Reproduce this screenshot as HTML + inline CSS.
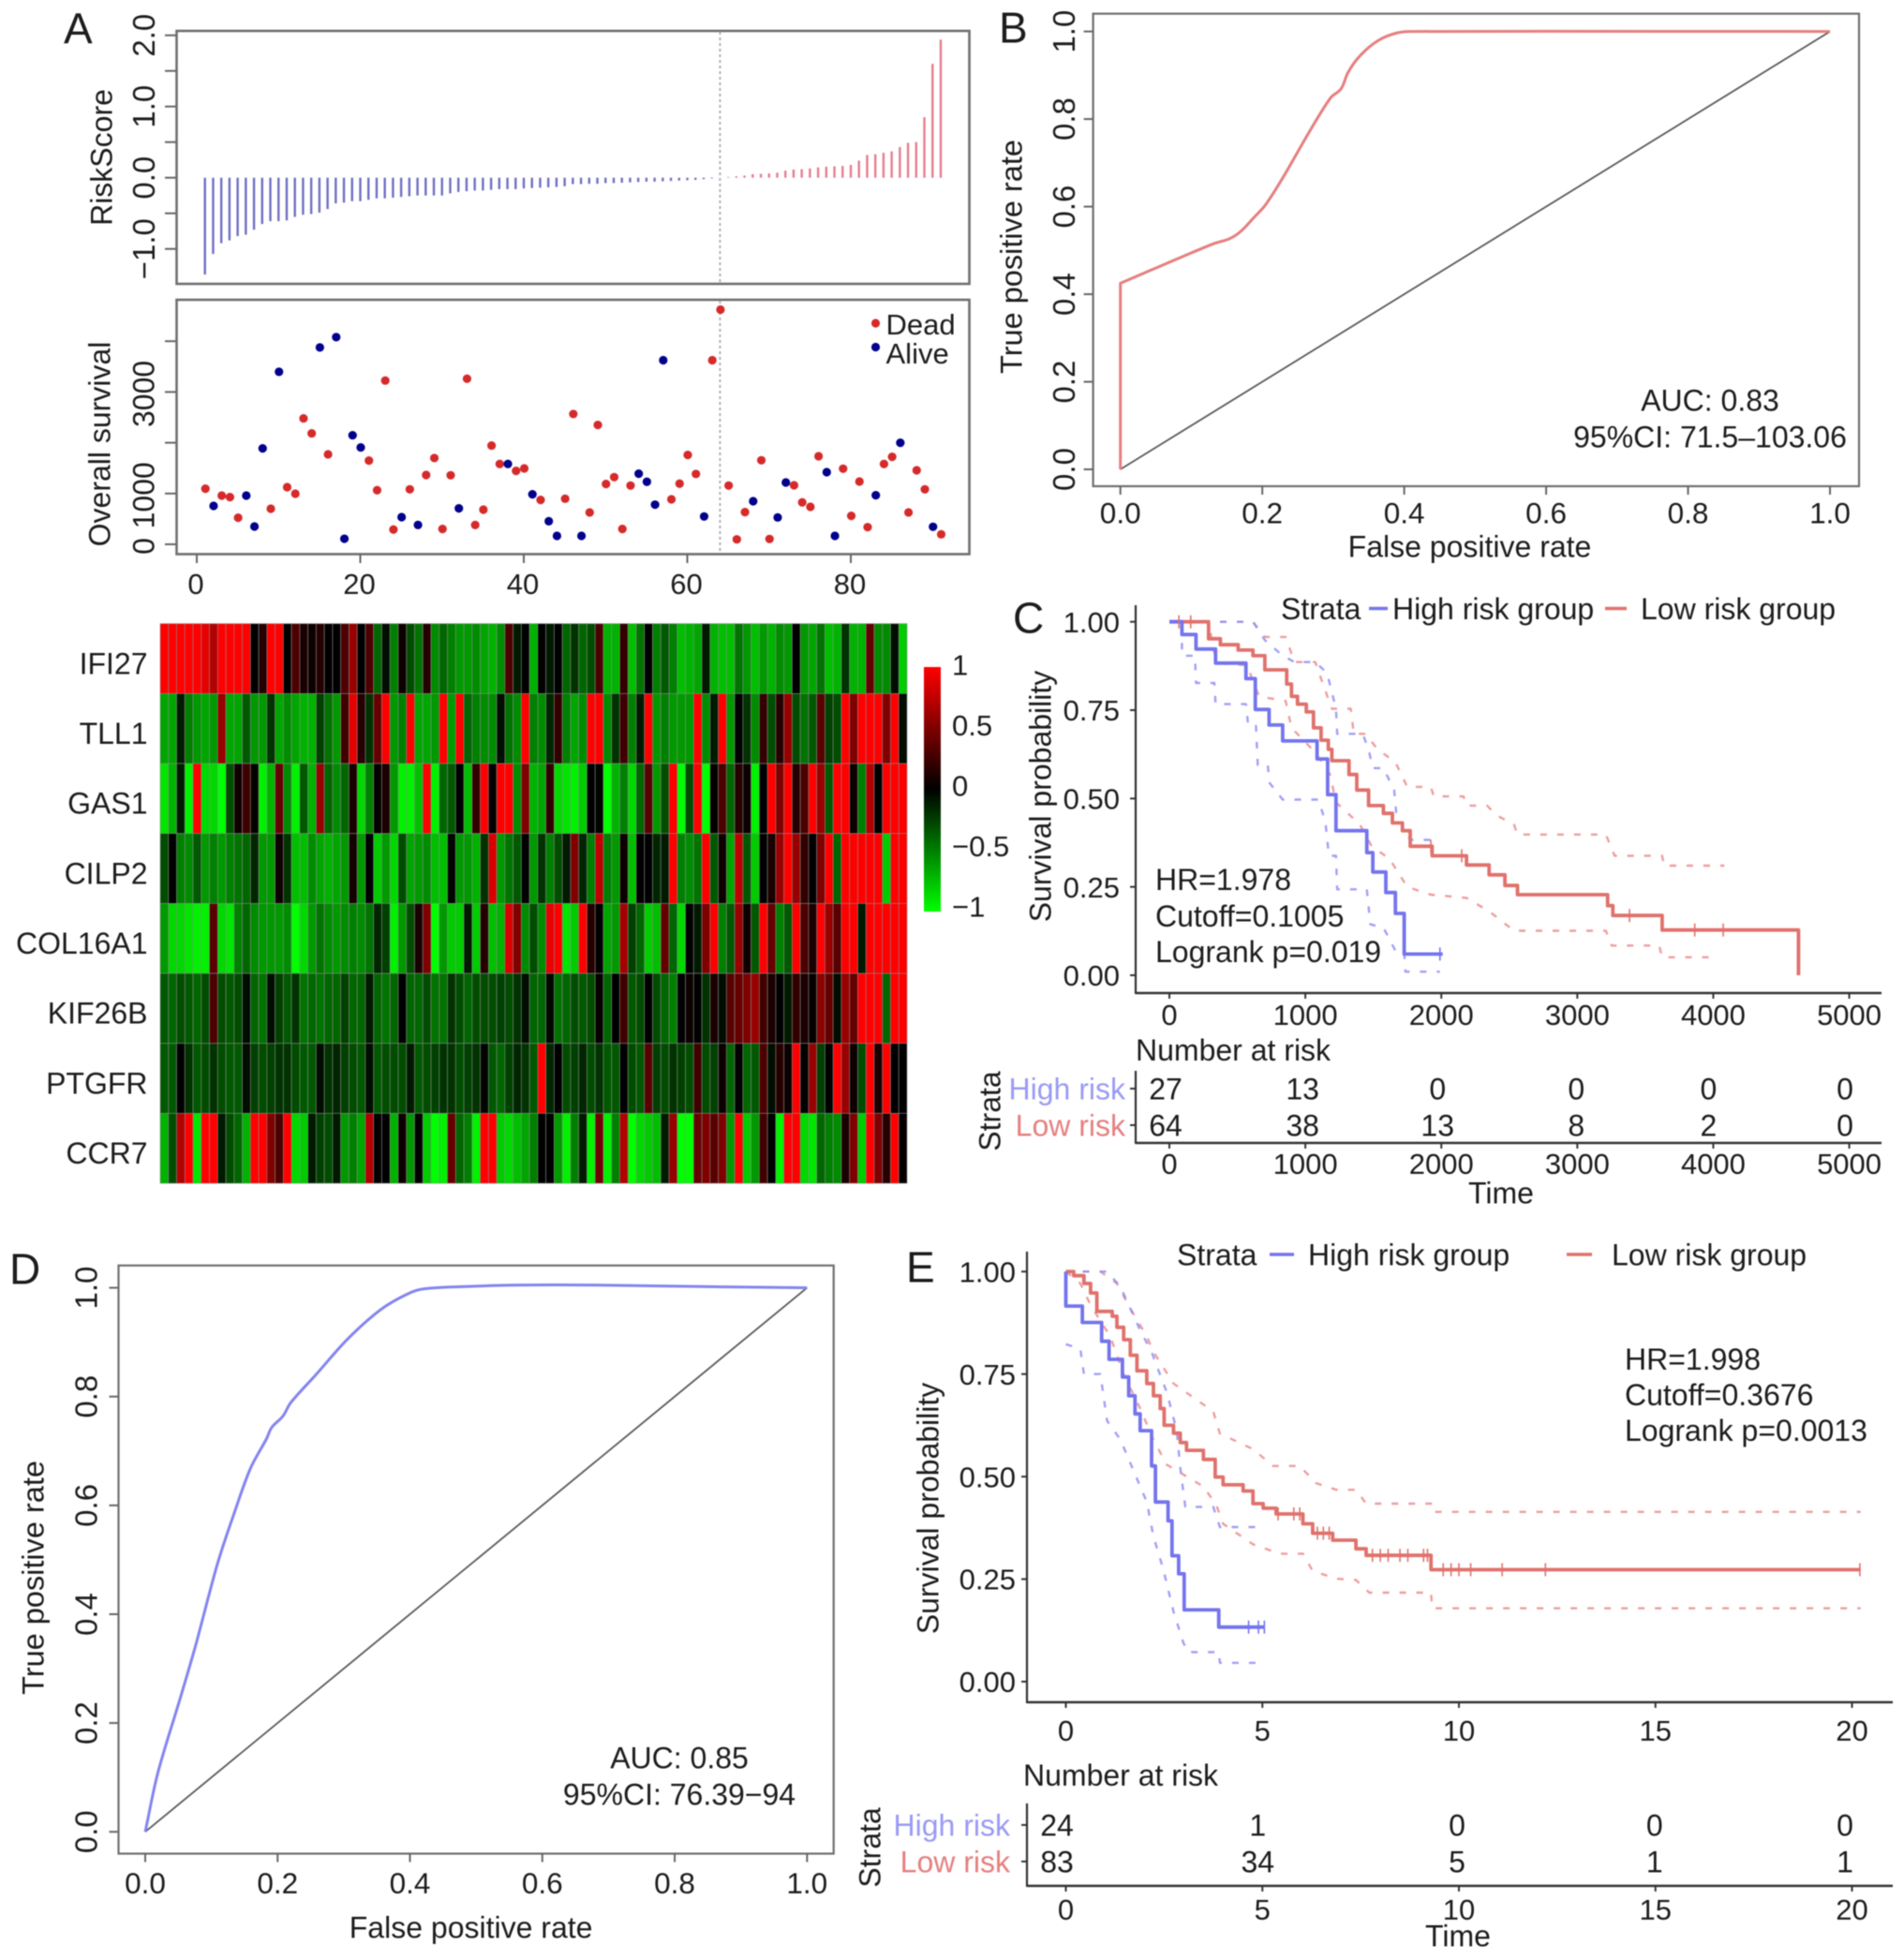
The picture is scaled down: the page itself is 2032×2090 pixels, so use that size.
<!DOCTYPE html>
<html lang="en">
<head>
<meta charset="utf-8">
<title>Risk score, ROC and survival panels</title>
<style>
html,body{margin:0;padding:0;background:#fff;}
#figure{display:block;width:2032px;height:2090px;filter:blur(0.5px);}
text{font-family:"Liberation Sans",Arial,sans-serif;fill:#1c1c1c;}
</style>
</head>
<body>
<svg id="figure" xmlns="http://www.w3.org/2000/svg" width="2032" height="2090" viewBox="0 0 2032 2090">
  <defs>
    <linearGradient id="heat-ramp" x1="0" y1="0" x2="0" y2="1">
      <stop offset="0" stop-color="#ff0000"/>
      <stop offset="0.5" stop-color="#000000"/>
      <stop offset="1" stop-color="#00ff00"/>
    </linearGradient>
  </defs>
  <g id="panel-a"></g>
  <g id="panel-b"></g>
  <g id="panel-c"></g>
  <g id="panel-d"></g>
  <g id="panel-e"></g>
</svg>
<script>
/* ---------- Panel A: risk score ---------- */
const riskScores = [-1.36,-1.07,-.92,-.88,-.82,-.80,-.73,-.65,-.61,-.61,-.60,-.55,-.52,-.51,-.49,-.44,-.36,-.35,-.33,-.33,-.31,-.29,-.29,-.28,-.27,-.26,-.25,-.25,-.25,-.25,-.22,-.20,-.19,-.18,-.18,-.17,-.16,-.16,-.16,-.15,-.145,-.14,-.135,-.13,-.12,-.09,-.09,-.085,-.085,-.075,-.075,-.07,-.065,-.06,-.055,-.055,-.05,-.045,-.04,-.035,-.03,-.02,-.01,0,.01,.02,.03,.05,.055,.06,.07,.1,.115,.12,.13,.145,.155,.16,.165,.18,.24,.32,.33,.35,.37,.43,.49,.5,.85,1.6,1.94];
const riskCutIndex = 64;
const riskTicks = [-1,-.5,0,.5,1,1.5,2];
const riskTickLabels = {"-1":"\u22121.0","0":"0.0","1":"1.0","2":"2.0"};

/* ---------- Panel A: overall survival ---------- */
const survivalDays = [1095,757,960,929,523,960,350,1889,701,3397,1126,997,2480,2185,3877,1772,4080,110,2148,1908,1649,1065,3225,290,535,1083,381,1366,1699,302,1360,708,3262,381,683,1945,1582,1582,1446,1495,985,874,455,166,898,2566,166,628,2351,1188,1323,302,1157,1391,1231,781,3625,886,1194,1760,1385,548,3625,4622,1157,98,634,849,1655,105,529,1218,1163,825,738,1735,1421,166,1489,560,1237,338,966,1582,1723,2000,628,1458,1083,345,197];
const survivalStatus = "DADDDAAADADDDDADAAAADDDDADADDDDADDDDDADDADAADDADDDDDDAAAADDDDADDDDDADDAADDDDAADDDDADDADDDAD";
const survivalTicks = [0,1000,2000,3000,4000];
const survivalTickLabels = {"0":"0","1000":"1000","3000":"3000"};
const indexTicks = [0,20,40,60,80];

/* ---------- Panel A: heatmap ---------- */
const heatGenes = ["IFI27","TLL1","GAS1","CILP2","COL16A1","KIF26B","PTGFR","CCR7"];
const heatIFI27 = [1,1,1,1,1,.9,.7,1,1,1,1,0,.15,1,1,0,.3,.1,.05,.15,0,0,.3,.6,0,.3,-.4,-.05,-.5,.05,-.3,-.45,.15,-.55,-.4,-.5,-.6,-.6,-.55,-.65,-.7,-.55,.3,-.1,0,-.7,0,-.1,0,-.4,-.2,-.4,-.3,.3,-.7,-.7,.2,-.75,-.45,0,-.5,-.35,-.5,-.75,-.7,-.65,-.1,-.7,-.75,-.75,-.45,-.6,-.75,-.6,-.7,-.55,-.6,0,-.6,-.65,-.45,-.75,-.7,-.2,-.7,-.7,.4,-.55,-.55,-.05,-.8];
const heatTLL1 = [-.65,-.65,-.1,-.5,-.6,-.65,-.6,.6,-.65,-.65,-.35,-.6,-.6,-.2,-.65,-.55,-.65,-.7,-.7,-.25,-.45,-.6,.25,.9,.15,-.2,.4,1,-.6,-.5,1,-.65,-.65,-.6,1,-.6,1,-.4,-.5,-.55,-.55,-.05,-.45,-.55,1,-.5,-.55,-.15,.2,-.5,-.65,-.55,1,1,-.55,-.2,.25,-.5,-.1,1,-.6,-.5,-.6,-.6,-.6,1,-.55,-.1,1,-.6,0,-.2,-.55,.2,-.3,.15,.6,-.3,-.45,-.35,.35,-.25,-.3,1,.5,1,1,1,.5,1,-.05];
const heatGAS1 = [-.9,-.7,-.1,-.95,1,-.85,-.85,-1,-.3,.05,.25,.02,-.95,-.7,.4,-.55,-.95,-.35,-.7,.6,-.4,-.55,-.4,.1,-.85,-.5,.02,.1,-.6,-.95,-.95,-.75,1,-.95,-.4,-.35,0,-.75,.2,1,0,1,1,-.55,.5,-.7,-.65,.2,-.85,-.9,-.95,-.8,0,-.02,-1,-.7,-.5,-.85,-.4,.35,-.6,-.3,1,-1,-.3,1,-1,.02,.3,-.4,.15,.05,-.95,0,1,.5,1,.15,.3,1,.6,-.35,1,1,.05,-.5,.7,0,1,1,1];
const heatCILP2 = [-.3,0,-.5,-.55,-.35,-.6,-.5,-.6,-.5,-.45,-.4,-.15,-.6,-.6,.05,-.2,-.75,-.75,-.55,-.65,-.7,-.65,-.6,.08,-.6,0,-.8,-.6,-.85,-.3,-.65,-.6,-.55,-.75,-.75,-.02,-.6,-.6,-.7,-.2,.85,-.6,-.45,-.35,0,-.6,-.2,-.5,-.3,-.1,.5,-.15,-.5,.75,-.5,-.6,.05,-.75,0,0,-.15,-.1,1,-.5,-.55,-.45,1,-.35,.05,-.65,.75,-.35,-.8,0,.1,.6,1,.6,.2,0,.5,1,-.4,1,1,1,1,1,-.8,1,1];
const heatCOL16A1 = [-.6,-.85,-.85,-.9,-.95,-.95,.35,-.85,-.9,-.5,-.4,-.55,-.6,-.6,-.6,-.55,-1,-.85,-.6,-.45,-.55,-.6,-.55,-.5,-.55,-.45,-.15,-.25,-.95,-.6,-.3,.1,.5,-1,-.6,-.8,-.8,-.1,-.8,.15,-.75,-.7,.85,.5,-.55,-.3,-.55,.9,1,-.9,-.8,1,.15,0,-.65,-.6,.65,-.25,-.4,-.8,-.75,.4,-.4,-.85,0,-.1,.5,1,-.5,-.35,.6,.05,-.35,1,.4,-.5,-.35,1,.3,.1,1,.6,.35,1,1,-.1,1,1,1,1,1];
const heatKIF26B = [-.35,-.4,-.3,-.35,-.4,-.3,.3,-.3,-.35,-.3,-.05,-.4,-.45,-.05,-.25,-.35,-.2,-.45,-.4,-.45,-.4,-.4,-.25,-.4,-.4,-.1,-.4,-.45,-.4,0,-.4,-.4,-.3,-.45,-.45,-.2,-.3,-.4,-.3,-.3,-.3,-.25,-.3,-.2,-.05,-.4,-.4,-.03,-.45,-.4,-.3,-.35,-.3,.02,-.4,0,.25,-.35,-.3,0,-.3,-.4,-.5,0,.05,0,-.2,.1,-.05,.35,.4,.5,.6,.25,.1,0,-.1,.2,.1,.02,.55,.4,-.05,.6,.4,1,1,1,-.4,1,1];
const heatPTGFR = [-.35,-.35,0,-.2,-.35,-.3,-.2,-.3,-.35,-.35,-.05,-.25,-.3,-.25,-.2,-.2,-.3,-.35,-.35,-.05,-.2,-.15,-.25,-.3,-.35,-.05,-.35,-.3,-.3,-.3,-.1,-.35,-.3,-.25,-.2,-.2,-.3,-.25,-.2,-.02,-.35,-.4,-.25,-.15,-.2,-.35,1,-.15,0,-.3,-.25,-.15,-.3,-.2,-.35,-.35,0,-.3,-.35,.35,-.25,-.3,-.2,-.25,-.3,.25,-.3,-.25,.05,-.4,0,-.4,-.35,.3,-.05,.15,.05,1,0,.6,-.25,0,1,.6,.05,-.3,1,.1,1,0,0];
const heatCCR7 = [-.7,-.3,.7,1,-.9,1,1,-.1,-.3,-.4,-.7,1,1,.5,.3,1,-.85,-.8,-.1,-.25,-.3,-.1,-.6,-.5,-.65,.7,0,0,-.7,.05,-.6,0,-.8,-1,-.95,.4,-.4,-.5,-.95,1,1,-.8,-.85,-.75,-.65,-.5,0,0,-.6,-.95,-.5,-.1,-.95,.45,-.95,-.5,.7,-1,-.85,-.8,-.75,-.1,.6,-1,-1,.4,.5,.35,.5,-.6,1,-.8,-.6,.25,0,-.95,1,1,-.85,-.9,-.4,-.5,-.55,.1,.5,-.8,1,.5,.15,1,0];
const heatRows = [heatIFI27,heatTLL1,heatGAS1,heatCILP2,heatCOL16A1,heatKIF26B,heatPTGFR,heatCCR7];
const heatScaleTicks = [1,.5,0,-.5,-1];
const heatScaleLabels = ["1","0.5","0","\u22120.5","\u22121"];

/* ---------- Panel B: ROC ---------- */
const rocBFpr = [0,0,.129,.154,.17,.187,.204,.229,.262,.296,.311,.321,.338,.363,.388,.409,1];
const rocBTpr = [0,.425,.514,.527,.544,.573,.603,.666,.759,.848,.869,.907,.945,.979,.996,1,1];
const rocTicks = [0,.2,.4,.6,.8,1];

/* ---------- Panel D: ROC ---------- */
const rocDFpr = [0,.019,.052,.076,.109,.134,.159,.183,.191,.208,.22,.257,.306,.356,.397,.421,.479,.561,.684,.849,1];
const rocDTpr = [0,.108,.242,.342,.492,.584,.668,.722,.743,.764,.789,.839,.906,.96,.989,.998,1.002,1.005,1.005,1.002,1];

/* ---------- Panel C: Kaplan-Meier ---------- */
const cTimeTicks = [0,1000,2000,3000,4000,5000];
const survTicks = [0,.25,.5,.75,1];
const cHighTimes = [0,92,196,340,563,632,733,833,1086,1164,1225,1452,1496,1592,1662,1727,2010];
const cHighSurv = [1,.964,.923,.883,.839,.752,.708,.663,.612,.511,.409,.347,.292,.234,.175,.06,.06];
const cLowTimes = [0,288,375,506,615,702,863,898,942,1007,1060,1116,1169,1195,1321,1378,1465,1574,1640,1714,1771,1932,2185,2351,2468,2560,3223,3262,3624,4627];
const cLowSurv = [1,.952,.935,.92,.904,.864,.824,.789,.767,.745,.70,.665,.639,.607,.568,.524,.48,.458,.431,.409,.365,.338,.312,.284,.254,.228,.197,.169,.128,0];
const cLowUpperT = [0,615,702,855,920,1073,1138,1195,1334,1356,1443,1531,1662,1749,1923,1945,2163,2185,2337,2403,2534,2560,3210,3275,3624,3637,4082];
const cLowUpperP = [1,1,.957,.957,.886,.886,.815,.754,.754,.683,.683,.639,.603,.533,.533,.506,.506,.48,.48,.453,.427,.398,.398,.338,.338,.31,.31];
const cLowLowerT = [0,288,331,375,571,659,855,898,986,1073,1182,1225,1400,1487,1618,1749,1923,2185,2359,2534,3210,3253,3602,3624,4038];
const cLowLowerP = [1,1,.912,.882,.877,.789,.776,.70,.665,.63,.568,.489,.427,.365,.33,.25,.228,.219,.179,.126,.126,.084,.084,.051,.051];
const cHighUpperT = [0,615,702,833,920,1073,1160,1225,1234,1422,1465,1496,1574,1653,1670,1771,1989];
const cHighUpperP = [1,1,.948,.904,.886,.886,.855,.754,.683,.683,.639,.586,.586,.524,.453,.383,.383];
const cHighLowerT = [0,92,92,188,196,331,340,563,580,637,650,724,733,833,1095,1147,1173,1225,1234,1452,1478,1574,1670,1727,1736,1989];
const cHighLowerP = [1,1,.904,.904,.827,.827,.767,.767,.705,.705,.595,.595,.546,.497,.497,.436,.338,.338,.243,.243,.144,.135,.064,.064,.01,.01];
const cHighCensor = [1990];
const cLowCensor = [70,157,1923,2150,3384,3864,4073];
const cRiskHigh = [27,13,0,0,0,0];
const cRiskLow = [64,38,13,8,2,0];

/* ---------- Panel E: Kaplan-Meier ---------- */
const eTimeTicks = [0,5,10,15,20];
const eHighTimes = [0,0,.42,.91,1.10,1.44,1.60,1.76,1.89,2.18,2.28,2.60,2.70,2.87,3.01,3.89,5.05];
const eHighSurv = [1,.916,.876,.83,.786,.743,.697,.653,.612,.526,.438,.392,.307,.263,.175,.133,.133];
const eLowTimes = [0,.20,.46,.63,.79,1.18,1.30,1.47,1.64,1.81,2.06,2.23,2.40,2.50,2.74,2.91,3.07,3.50,3.80,4.00,4.51,4.76,5.02,5.35,6.03,6.28,6.79,7.38,7.64,9.29,20.22];
const eLowSurv = [1,.99,.971,.948,.903,.891,.864,.834,.796,.758,.727,.697,.666,.625,.606,.583,.564,.542,.499,.48,.465,.434,.423,.409,.385,.362,.345,.324,.308,.273,.273];
const eLowUpperT = [0,.88,1.30,1.64,2.06,2.23,2.74,3.75,3.92,4.76,5.27,5.95,6.37,6.88,7.38,7.64,9.29,9.32,20.22];
const eLowUpperP = [1,1,.971,.91,.842,.804,.727,.659,.605,.567,.526,.526,.484,.468,.468,.434,.434,.414,.414];
const eLowLowerT = [0,.37,.63,1.13,1.47,1.89,2.23,2.57,3.50,3.83,4.00,4.76,5.44,6.03,6.28,6.88,7.38,7.72,9.29,9.32,20.22];
const eLowLowerP = [1,.971,.918,.842,.75,.666,.59,.529,.476,.43,.385,.335,.312,.312,.27,.251,.248,.217,.217,.179,.179];
const eHighUpperT = [0,1.05,1.39,1.64,1.89,2.18,2.57,2.82,2.91,3.04,3.75,3.92,5.02];
const eHighUpperP = [1,1,.963,.91,.857,.804,.705,.613,.522,.426,.426,.377,.377];
const eHighLowerT = [0,.37,.46,.88,1.05,1.39,1.64,2.06,2.23,2.48,2.74,2.99,3.11,3.89,3.92,5.02];
const eHighLowerP = [.823,.811,.75,.75,.636,.59,.533,.438,.354,.274,.171,.095,.072,.072,.046,.046];
const eHighCensor = [4.65,4.9,5.05];
const eLowCensor = [5.4,5.8,5.95,6.4,6.55,6.7,7.8,8.0,8.2,8.5,8.7,9.1,9.2,9.6,9.8,10.0,10.3,11.1,12.2,20.2];
const eRiskHigh = [24,1,0,0,0];
const eRiskLow = [83,34,5,1,1];

/* ---------- drawing helpers ---------- */
const NS = "http://www.w3.org/2000/svg";
const BLUE = "#7474ee", RED = "#e0716c", BLUE_SOFT = "#8f8ff5", RED_SOFT = "#ea8d90";

function mk(parent, tag, props) {
  const el = document.createElementNS(NS, tag);
  for (const k in props) el.setAttribute(k, props[k]);
  parent.appendChild(el);
  return el;
}
function drawLine(parent, x1, y1, x2, y2, stroke, width, name, dash) {
  const el = mk(parent, "line", {x1, y1, x2, y2, stroke, "stroke-width": width});
  if (dash) el.setAttribute("stroke-dasharray", dash);
  
  
  return el;
}
function drawRect(parent, x, y, w, h, fill, stroke, sw, name) {
  const el = mk(parent, "rect", {x, y, width: w, height: h, fill, stroke, "stroke-width": sw});
  
  
  return el;
}
function drawPath(parent, d, stroke, width, name, dash, opacity) {
  const el = mk(parent, "path", {d, fill: "none", stroke, "stroke-width": width, "stroke-linejoin": "round"});
  if (dash) el.setAttribute("stroke-dasharray", dash);
  if (opacity) el.setAttribute("stroke-opacity", opacity);
  
  
  return el;
}
function hText(parent, str, x, cy, size, anchor, name, fill) {
  const el = mk(parent, "text", {x, y: cy + 0.36 * size, "font-size": size, "text-anchor": anchor});
  if (fill) el.setAttribute("style", "fill:" + fill);
  el.textContent = str;
  
  
  return el;
}
function vText(parent, str, cx, cy, size, name) {
  const bx = cx + 0.36 * size;
  const el = mk(parent, "text", {x: bx, y: cy, "font-size": size, "text-anchor": "middle", transform: "rotate(-90 " + bx + " " + cy + ")"});
  el.textContent = str;
  
  
  return el;
}
function polyD(xs, ys, fx, fy) {
  return xs.map((v, i) => (i ? "L" : "M") + fx(v).toFixed(1) + " " + fy(ys[i]).toFixed(1)).join("");
}
function smoothD(xs, ys, fx, fy, corner) {
  const pts = xs.map((v, i) => [fx(v), fy(ys[i])]);
  let d = "M" + pts[0][0].toFixed(1) + " " + pts[0][1].toFixed(1);
  for (let i = 1; i <= corner; i++) d += "L" + pts[i][0].toFixed(1) + " " + pts[i][1].toFixed(1);
  const unit = (a, b) => {
    const dx = b[0] - a[0], dy = b[1] - a[1], n = Math.hypot(dx, dy) || 1;
    return [dx / n, dy / n];
  };
  for (let i = corner; i < pts.length - 1; i++) {
    const p0 = i > corner ? pts[i - 1] : pts[i], p1 = pts[i], p2 = pts[i + 1];
    const p3 = i + 2 < pts.length ? pts[i + 2] : p2;
    const len = Math.hypot(p2[0] - p1[0], p2[1] - p1[1]) / 3;
    const t1 = unit(p0, p2), t2 = unit(p1, p3);
    d += "C" + (p1[0] + t1[0] * len).toFixed(1) + " " + (p1[1] + t1[1] * len).toFixed(1) + " " +
         (p2[0] - t2[0] * len).toFixed(1) + " " + (p2[1] - t2[1] * len).toFixed(1) + " " +
         p2[0].toFixed(1) + " " + p2[1].toFixed(1);
  }
  return d;
}
function stepD(ts, ps, fx, fy) {
  let d = "M" + fx(ts[0]).toFixed(1) + " " + fy(ps[0]).toFixed(1);
  for (let i = 1; i < ts.length; i++) {
    d += "H" + fx(ts[i]).toFixed(1) + "V" + fy(ps[i]).toFixed(1);
  }
  return d;
}
function survAt(ts, ps, t) {
  let p = ps[0];
  for (let i = 0; i < ts.length; i++) if (ts[i] <= t) p = ps[i];
  return p;
}
function heatColor(v) {
  const c = Math.round(255 * Math.min(1, Math.abs(v)));
  return v >= 0 ? "rgb(" + c + ",0,0)" : "rgb(0," + c + ",0)";
}

/* ---------- Panel A ---------- */
const panelA = document.getElementById("panel-a");
const xIndex = i => 210 + 8.725 * i;
const yRisk = v => 189.7 - 76 * v;
const ySurvival = v => 581 - 0.0542 * v;

hText(panelA, "A", 68, 30, 46, "start", "panel-a-letter");

drawRect(panelA, 188.5, 33, 846, 270, "none", "#6f6f6f", 2.6, "risk-score-plot-box");
riskTicks.forEach(t => {
  drawLine(panelA, 176, yRisk(t), 188.5, yRisk(t), "#666", 2, "risk-y-tick");
  if (riskTickLabels[t] !== undefined) vText(panelA, riskTickLabels[t], 153, yRisk(t), 33, "risk-y-tick-label");
});
vText(panelA, "RiskScore", 108, 168, 32, "risk-y-axis-title");
riskScores.forEach((v, i) => {
  const color = v < 0 || i + 1 < riskCutIndex ? "#6f6fc2" : "#e57d8e";
  drawLine(panelA, xIndex(i + 1), yRisk(0), xIndex(i + 1), yRisk(v), color, 2.4, "risk-score-bar");
});
drawLine(panelA, xIndex(riskCutIndex), 34, xIndex(riskCutIndex), 302, "#aaaaaa", 1.8, "risk-cutoff-line", "3 3");

drawRect(panelA, 188.5, 320, 846, 271.5, "none", "#6f6f6f", 2.6, "survival-plot-box");
survivalTicks.forEach(t => {
  drawLine(panelA, 176, ySurvival(t), 188.5, ySurvival(t), "#666", 2, "survival-y-tick");
  if (survivalTickLabels[t] !== undefined) vText(panelA, survivalTickLabels[t], 153, ySurvival(t) + 2, 32, "survival-y-tick-label");
});
indexTicks.forEach(t => {
  drawLine(panelA, xIndex(t), 591.5, xIndex(t), 601, "#666", 2, "survival-x-tick");
  hText(panelA, String(t), xIndex(t) - 1, 623, 31, "middle", "survival-x-tick-label");
});
vText(panelA, "Overall survival", 106, 474, 32, "survival-y-axis-title");
drawLine(panelA, xIndex(riskCutIndex), 321, xIndex(riskCutIndex), 591, "#aaaaaa", 1.8, "survival-cutoff-line", "3 3");
survivalDays.forEach((v, i) => {
  const dead = survivalStatus[i] === "D";
  const dot = mk(panelA, "circle", {cx: xIndex(i + 1) + 0.5, cy: ySurvival(v), r: 4.6, fill: dead ? "#d62a2a" : "#00008c"});
  
  
});
const deadKey = mk(panelA, "circle", {cx: 934.5, cy: 345, r: 4.6, fill: "#d62a2a"});


const aliveKey = mk(panelA, "circle", {cx: 934.5, cy: 370.5, r: 4.6, fill: "#00008c"});


hText(panelA, "Dead", 945.5, 346, 31, "start", "legend-dead-label");
hText(panelA, "Alive", 945.5, 377, 31, "start", "legend-alive-label");

const heatLeft = 171, heatTop = 665.7, cellW = 797 / 91, cellH = 74.67;
heatRows.forEach((row, r) => {
  row.forEach((v, c) => {
    const cell = mk(panelA, "rect", {x: heatLeft + c * cellW, y: heatTop + r * cellH, width: cellW, height: cellH, fill: heatColor(v), stroke: "#8a8a8a", "stroke-width": 0.7, "stroke-opacity": 0.8});
    
    
  });
  hText(panelA, heatGenes[r], 157.5, heatTop + (r + 0.55) * cellH + 1, 32, "end", "heatmap-gene-label");
});
drawRect(panelA, 986, 712, 18, 261, "url(#heat-ramp)", "none", 0, "heatmap-color-scale");
heatScaleTicks.forEach((t, i) => {
  hText(panelA, heatScaleLabels[i], 1016, 838.5 - 129 * t, 31, "start", "heatmap-scale-label");
});

/* ---------- ROC panels ---------- */
function drawRoc(panel, cfg) {
  const fx = v => cfg.x0 + (cfg.x1 - cfg.x0) * v;
  const fy = v => cfg.y0 + (cfg.y1 - cfg.y0) * v;
  drawRect(panel, cfg.left, cfg.top, cfg.right - cfg.left, cfg.bottom - cfg.top, "none", "#6f6f6f", 2.2, "roc-plot-box");
  rocTicks.forEach(t => {
    drawLine(panel, fx(t), cfg.bottom, fx(t), cfg.bottom + 9, "#666", 2, "roc-x-tick");
    drawLine(panel, cfg.left - 10, fy(t), cfg.left, fy(t), "#666", 2, "roc-y-tick");
    hText(panel, t.toFixed(1), fx(t), cfg.xLabelY, 31.5, "middle", "roc-x-tick-label");
    vText(panel, t.toFixed(1), cfg.yLabelX, fy(t), 33, "roc-y-tick-label");
  });
  hText(panel, "False positive rate", cfg.xTitle[0], cfg.xTitle[1], 32, "middle", "roc-x-axis-title");
  vText(panel, "True positive rate", cfg.yTitle[0], cfg.yTitle[1], 32.5, "roc-y-axis-title");
  drawLine(panel, fx(0), fy(0), fx(1), fy(1), "#5a5a5a", 1.8, "roc-diagonal");
  drawPath(panel, smoothD(cfg.fpr, cfg.tpr, fx, fy, cfg.corner), cfg.color, 3, "roc-curve");
  hText(panel, cfg.auc, cfg.noteX, cfg.noteY[0], 32, "middle", "roc-auc-label");
  hText(panel, cfg.ci, cfg.noteX, cfg.noteY[1], 32, "middle", "roc-ci-label");
  hText(panel, cfg.letter, cfg.letterX, cfg.letterY, 46, "start", "panel-letter");
}
drawRoc(document.getElementById("panel-b"), {
  left: 1166.6, right: 1984, top: 14.6, bottom: 519, x0: 1195.7, x1: 1953, y0: 501, y1: 33.6,
  xLabelY: 547, yLabelX: 1135, xTitle: [1568.5, 583], yTitle: [1079, 274],
  fpr: rocBFpr, tpr: rocBTpr, color: "#e57f7f", corner: 1,
  auc: "AUC: 0.83", ci: "95%CI: 71.5\u2013103.06", noteX: 1825, noteY: [427, 466],
  letter: "B", letterX: 1066, letterY: 29
});
drawRoc(document.getElementById("panel-d"), {
  left: 126.5, right: 889.7, top: 1350.8, bottom: 1978.6, x0: 155, x1: 861.3, y0: 1955.3, y1: 1374.6,
  xLabelY: 2009.5, yLabelX: 91.7, xTitle: [502.6, 2057], yTitle: [34.8, 1684],
  fpr: rocDFpr, tpr: rocDTpr, color: "#8484f0", corner: 0,
  auc: "AUC: 0.85", ci: "95%CI: 76.39\u221294", noteX: 725, noteY: [1876, 1915],
  letter: "D", letterX: 10, letterY: 1354
});

/* ---------- Kaplan-Meier panels ---------- */
function drawKm(panel, cfg) {
  const fx = cfg.fx, fy = cfg.fy;
  drawLine(panel, cfg.axisX, cfg.axisTop, cfg.axisX, cfg.axisBottom + 1, "#333", 2.2, "km-y-axis-line");
  drawLine(panel, cfg.axisX, cfg.axisBottom, cfg.axisRight, cfg.axisBottom, "#333", 2.6, "km-x-axis-line");
  survTicks.forEach(t => {
    drawLine(panel, cfg.axisX - 6, fy(t), cfg.axisX, fy(t), "#333", 2, "km-y-tick");
    hText(panel, t.toFixed(2), cfg.axisX - cfg.tickGap, fy(t), 31, "end", "km-y-tick-label");
  });
  cfg.timeTicks.forEach(t => {
    drawLine(panel, fx(t), cfg.axisBottom, fx(t), cfg.axisBottom + 6, "#333", 2, "km-x-tick");
    hText(panel, String(t), fx(t), cfg.tickLabelY, 31, "middle", "km-x-tick-label");
  });
  vText(panel, "Survival probability", cfg.survTitle[0], cfg.survTitle[1], 32, "km-y-axis-title");

  cfg.ci.forEach(c => {
    drawPath(panel, polyD(c.t, c.p, fx, fy), c.color, 2.4, c.name, "7 11", 0.85);
  });
  drawPath(panel, stepD(cfg.lowT, cfg.lowP, fx, fy), RED, 3.8, "low-risk-survival-curve");
  drawPath(panel, stepD(cfg.highT, cfg.highP, fx, fy), BLUE, 3.8, "high-risk-survival-curve");
  cfg.lowCensor.forEach(t => {
    const y = fy(survAt(cfg.lowT, cfg.lowP, t));
    drawLine(panel, fx(t), y - 7, fx(t), y + 7, RED, 1.6, "low-risk-censor-mark");
  });
  cfg.highCensor.forEach(t => {
    const y = fy(survAt(cfg.highT, cfg.highP, t));
    drawLine(panel, fx(t), y - 7, fx(t), y + 7, BLUE, 1.6, "high-risk-censor-mark");
  });

  hText(panel, "Strata", cfg.legend.strata, cfg.legend.y, 32, "start", "legend-title");
  drawLine(panel, cfg.legend.blue[0], cfg.legend.y, cfg.legend.blue[1], cfg.legend.y, BLUE, 3.4, "legend-high-risk-key");
  hText(panel, "High risk group", cfg.legend.highX, cfg.legend.y, 32, "start", "legend-high-risk-label");
  drawLine(panel, cfg.legend.red[0], cfg.legend.y, cfg.legend.red[1], cfg.legend.y, RED, 3.4, "legend-low-risk-key");
  hText(panel, "Low risk group", cfg.legend.lowX, cfg.legend.y, 32, "start", "legend-low-risk-label");

  cfg.notes.forEach((n, i) => {
    const el = mk(panel, "text", {x: cfg.noteX, y: cfg.noteY[i], "font-size": 32});
    el.textContent = n;
    
    
  });
  hText(panel, cfg.letter, cfg.letterX, cfg.letterY, 46, "start", "panel-letter");

  const t = cfg.table;
  const nar = mk(panel, "text", {x: t.titleX, y: t.titleY, "font-size": 32});
  nar.textContent = "Number at risk";
  
  
  drawLine(panel, cfg.axisX, t.top, cfg.axisX, t.bottom + 1, "#333", 2.2, "risk-table-y-axis");
  drawLine(panel, cfg.axisX, t.bottom, cfg.axisRight, t.bottom, "#333", 2.6, "risk-table-x-axis");
  drawLine(panel, cfg.axisX - 6, t.highY, cfg.axisX, t.highY, "#333", 2, "risk-table-high-tick");
  drawLine(panel, cfg.axisX - 6, t.lowY, cfg.axisX, t.lowY, "#333", 2, "risk-table-low-tick");
  hText(panel, "High risk", t.labelX, t.highY, 32, "end", "risk-table-high-label", "#9a9af5");
  hText(panel, "Low risk", t.labelX, t.lowY, 32, "end", "risk-table-low-label", "#e58080");
  cfg.timeTicks.forEach((tk, i) => {
    drawLine(panel, fx(tk), t.bottom, fx(tk), t.bottom + 6, "#333", 2, "risk-table-x-tick");
    hText(panel, String(tk), fx(tk), t.tickY, 31, "middle", "risk-table-x-tick-label");
    hText(panel, String(cfg.riskHigh[i]), fx(tk) + t.shift[i], t.highY, 32, "middle", "high-risk-count");
    hText(panel, String(cfg.riskLow[i]), fx(tk) + t.shift[i], t.lowY, 32, "middle", "low-risk-count");
  });
  vText(panel, "Strata", t.strata[0], t.strata[1], 32, "risk-table-y-axis-title");
  hText(panel, "Time", t.time[0], t.time[1], 32, "middle", "risk-table-x-axis-title");
}

drawKm(document.getElementById("panel-c"), {
  fx: v => 1248 + 0.14511 * v, fy: v => 1041 - 377.3 * v,
  axisX: 1212, axisTop: 646, axisBottom: 1060, axisRight: 2008, tickLabelY: 1083, tickGap: 17,
  timeTicks: cTimeTicks, survTitle: [1110, 850],
  highT: cHighTimes, highP: cHighSurv, lowT: cLowTimes, lowP: cLowSurv,
  ci: [
    {t: cLowUpperT, p: cLowUpperP, color: RED_SOFT, name: "low-risk-upper-ci"},
    {t: cLowLowerT, p: cLowLowerP, color: RED_SOFT, name: "low-risk-lower-ci"},
    {t: cHighUpperT, p: cHighUpperP, color: BLUE_SOFT, name: "high-risk-upper-ci"},
    {t: cHighLowerT, p: cHighLowerP, color: BLUE_SOFT, name: "high-risk-lower-ci"}
  ],
  highCensor: cHighCensor, lowCensor: cLowCensor,
  legend: {strata: 1367, y: 649.5, blue: [1461, 1481], highX: 1486, red: [1713, 1736], lowX: 1751},
  notes: ["HR=1.978", "Cutoff=0.1005", "Logrank p=0.019"], noteX: 1233, noteY: [950, 989, 1027],
  letter: "C", letterX: 1081, letterY: 659,
  riskHigh: cRiskHigh, riskLow: cRiskLow,
  table: {titleX: 1212, titleY: 1132, top: 1143, bottom: 1220, highY: 1162, lowY: 1201, labelX: 1201, tickY: 1242, strata: [1056, 1186], time: [1602, 1273], shift: [-4,-3,-4,-1,-5,-4.5]}
});

drawKm(document.getElementById("panel-e"), {
  fx: v => 1137.5 + 41.95 * v, fy: v => 1795 - 437.7 * v,
  axisX: 1096, axisTop: 1336, axisBottom: 1817, axisRight: 2020, tickLabelY: 1847, tickGap: 12,
  timeTicks: eTimeTicks, survTitle: [990, 1610],
  highT: eHighTimes, highP: eHighSurv, lowT: eLowTimes, lowP: eLowSurv,
  ci: [
    {t: eLowUpperT, p: eLowUpperP, color: RED_SOFT, name: "low-risk-upper-ci"},
    {t: eLowLowerT, p: eLowLowerP, color: RED_SOFT, name: "low-risk-lower-ci"},
    {t: eHighUpperT, p: eHighUpperP, color: BLUE_SOFT, name: "high-risk-upper-ci"},
    {t: eHighLowerT, p: eHighLowerP, color: BLUE_SOFT, name: "high-risk-lower-ci"}
  ],
  highCensor: eHighCensor, lowCensor: eLowCensor,
  legend: {strata: 1256, y: 1339, blue: [1355, 1381], highX: 1396, red: [1672, 1699], lowX: 1720},
  notes: ["HR=1.998", "Cutoff=0.3676", "Logrank p=0.0013"], noteX: 1734, noteY: [1462, 1500, 1538],
  letter: "E", letterX: 967, letterY: 1352,
  riskHigh: eRiskHigh, riskLow: eRiskLow,
  table: {titleX: 1092, titleY: 1906, top: 1925, bottom: 2013, highY: 1948, lowY: 1987, labelX: 1078, tickY: 2038, strata: [928, 1972], time: [1556, 2066], shift: [-9.5,-5,-2,-1,-7.5]}
});
</script>
</body>
</html>
